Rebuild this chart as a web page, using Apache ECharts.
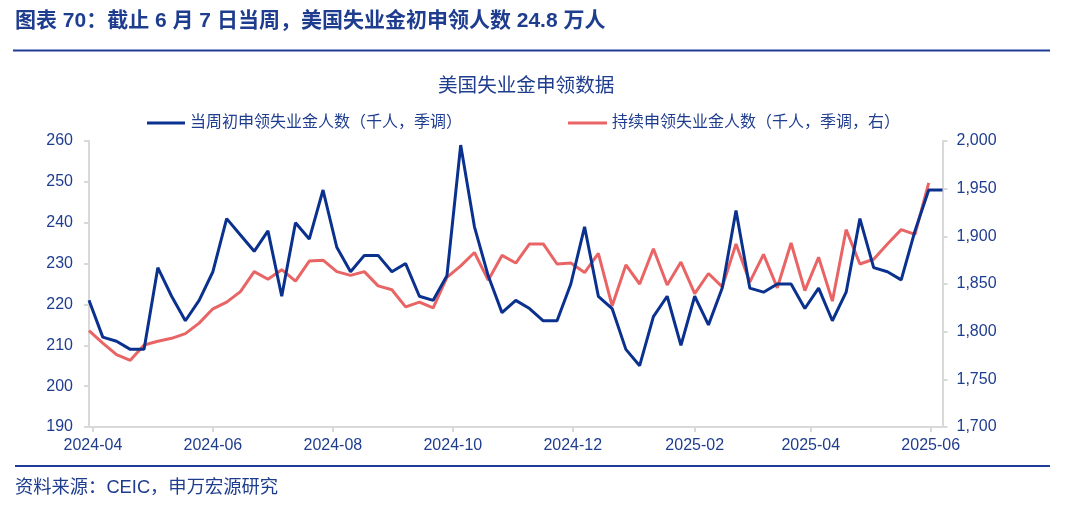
<!DOCTYPE html>
<html>
<head>
<meta charset="utf-8">
<script src="https://cdn.jsdelivr.net/npm/echarts@6/dist/echarts.min.js"></script>
<style>
html,body{margin:0;padding:0;background:#fff;}
#c{width:1080px;height:515px;}
</style>
</head>
<body>
<div id="c"></div>
<script>
// weekly dates (week ending)
var dates = [
 '2024-03-30','2024-04-06','2024-04-13','2024-04-20','2024-04-27',
 '2024-05-04','2024-05-11','2024-05-18','2024-05-25',
 '2024-06-01','2024-06-08','2024-06-15','2024-06-22','2024-06-29',
 '2024-07-06','2024-07-13','2024-07-20','2024-07-27',
 '2024-08-03','2024-08-10','2024-08-17','2024-08-24','2024-08-31',
 '2024-09-07','2024-09-14','2024-09-21','2024-09-28',
 '2024-10-05','2024-10-12','2024-10-19','2024-10-26',
 '2024-11-02','2024-11-09','2024-11-16','2024-11-23','2024-11-30',
 '2024-12-07','2024-12-14','2024-12-21','2024-12-28',
 '2025-01-04','2025-01-11','2025-01-18','2025-01-25',
 '2025-02-01','2025-02-08','2025-02-15','2025-02-22',
 '2025-03-01','2025-03-08','2025-03-15','2025-03-22','2025-03-29',
 '2025-04-05','2025-04-12','2025-04-19','2025-04-26',
 '2025-05-03','2025-05-10','2025-05-17','2025-05-24','2025-05-31',
 '2025-06-07'
];
// initial claims (thousand, SA), left axis
var initialClaims = [
 221,212,211,209,209,229,222,216,221,228,
 241,237,233,238,222,240,236,248,234,228,
 232,232,228,230,222,221,227,259,239,227,
 218,221,219,216,216,225,239,222,219,209,
 205,217,222,210,222,215,224,243,224,223,
 225,225,219,224,216,223,241,229,228,226,
 238,248,248
];
// continuing claims (thousand, SA), right axis
var continuingClaims = [
 1801,1788,1776,1770,1786,1790,1793,1798,1809,1824,
 1831,1842,1863,1855,1865,1853,1874,1875,1863,1859,
 1863,1848,1844,1826,1831,1825,1857,1869,1883,1854,
 1880,1872,1892,1892,1871,1872,1862,1882,1827,1870,
 1850,1887,1849,1873,1840,1861,1847,1892,1852,1881,
 1846,1893,1843,1878,1832,1907,1871,1876,1892,1907,
 1902,1956
];
var xTickLabels = ['2024-04','2024-06','2024-08','2024-10','2024-12','2025-02','2025-04','2025-06'];
var leftTicks = [190,200,210,220,230,240,250,260];
var rightTicks = [1700,1750,1800,1850,1900,1950,2000];

var nameA = '当周初申领失业金人数（千人，季调）';
var nameB = '持续申领失业金人数（千人，季调，右）';

var FONT = "'Liberation Sans','Noto Sans CJK SC',sans-serif";
var TXT = '#1F3D8F';
var AXIS = '#D9D9D9';

function ts(s){ var p = s.split('-'); return Date.UTC(+p[0], +p[1]-1, +(p[2]||1)); }
var xTickValues = xTickLabels.map(function(l){ return ts(l + '-01'); });

var chart = echarts.init(document.getElementById('c'), null, {renderer:'canvas'});
chart.setOption({
  animation:false,
  backgroundColor:'#fff',
  textStyle:{fontFamily:FONT},
  title:[
    {text:'图表 70：截止 6 月 7 日当周，美国失业金初申领人数 24.8 万人', left:15, top:11, padding:0,
     textStyle:{fontSize:21, fontWeight:'bold', color:TXT, fontFamily:FONT}},
    {text:'美国失业金申领数据', left:438, top:77, padding:0,
     textStyle:{fontSize:19.6, fontWeight:'normal', color:TXT, fontFamily:FONT}},
    {text:'资料来源：CEIC，申万宏源研究', left:15, top:479, padding:0,
     textStyle:{fontSize:18.3, fontWeight:'normal', color:TXT, fontFamily:FONT}}
  ],
  graphic:[
    {type:'line', shape:{x1:13,y1:50.5,x2:1050,y2:50.5}, style:{stroke:'#1F3C99', lineWidth:2}},
    {type:'line', shape:{x1:15,y1:466,x2:1050,y2:466}, style:{stroke:'#1F3C99', lineWidth:2}}
  ],
  legend:[
    {data:[nameA], left:147, top:115, padding:0, icon:'rect', itemWidth:38, itemHeight:3, itemGap:6,
     textStyle:{fontSize:16, color:TXT, fontFamily:FONT}},
    {data:[nameB], left:568, top:115, padding:0, icon:'rect', itemWidth:39, itemHeight:3, itemGap:6,
     textStyle:{fontSize:16, color:TXT, fontFamily:FONT}}
  ],
  grid:{left:89, right:137.5, top:141, bottom:88, containLabel:false},
  xAxis:{
    type:'value',
    min:ts(dates[0]), max:ts(dates[dates.length-1]),
    axisLine:{show:true, lineStyle:{color:AXIS, width:2}},
    axisTick:{show:true, customValues:xTickValues, length:5, lineStyle:{color:AXIS, width:2}},
    splitLine:{show:false},
    axisLabel:{
      customValues:xTickValues,
      margin:11, fontSize:16, color:TXT, fontFamily:FONT,
      formatter:function(v){
        var best=0, bd=Infinity;
        xTickValues.forEach(function(t,k){ var d=Math.abs(t-v); if(d<bd){bd=d;best=k;} });
        return xTickLabels[best];
      }
    }
  },
  yAxis:[
    {type:'value', min:leftTicks[0], max:leftTicks[leftTicks.length-1], interval:10, position:'left',
     axisLine:{show:true, lineStyle:{color:AXIS, width:2}},
     axisTick:{show:true, length:5, lineStyle:{color:AXIS, width:2}},
     splitLine:{show:false},
     axisLabel:{margin:16, fontSize:16, color:TXT, fontFamily:FONT}},
    {type:'value', min:rightTicks[0], max:rightTicks[rightTicks.length-1], interval:50, position:'right',
     axisLine:{show:true, lineStyle:{color:AXIS, width:2}},
     axisTick:{show:true, length:5, lineStyle:{color:AXIS, width:2}},
     splitLine:{show:false},
     axisLabel:{margin:14, fontSize:16, color:TXT, fontFamily:FONT,
       formatter:function(v){ return v.toLocaleString('en-US'); }}}
  ],
  series:[
    {name:nameA, type:'line', yAxisIndex:0, showSymbol:false, symbol:'none',
     lineStyle:{color:'#0B318F', width:3}, itemStyle:{color:'#0B318F'},
     data:dates.map(function(d,i){ return [ts(d), initialClaims[i]]; }), z:3},
    {name:nameB, type:'line', yAxisIndex:1, showSymbol:false, symbol:'none',
     lineStyle:{color:'#E96565', width:3}, itemStyle:{color:'#E96565'},
     data:continuingClaims.map(function(v,i){ return [ts(dates[i]), v]; }), z:2}
  ]
});
</script>
</body>
</html>
